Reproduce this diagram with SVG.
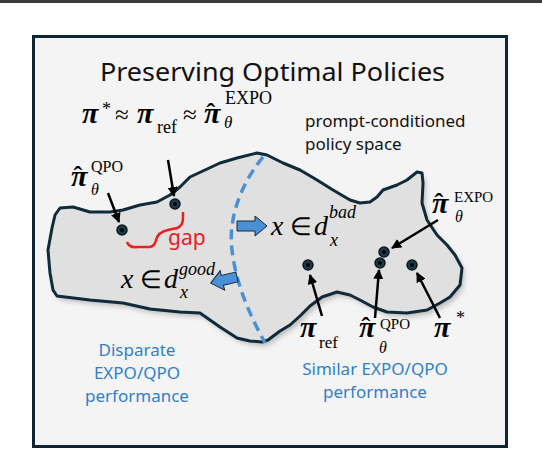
<svg xmlns="http://www.w3.org/2000/svg" width="542" height="450" viewBox="0 0 542 450">
<defs>
<style>
.sans{font-family:"Noto Sans","Open Sans","Liberation Sans",sans-serif;}
.pi{font-family:"Liberation Serif","Times New Roman",serif;font-style:italic;font-weight:bold;font-size:30px;fill:#000;}
.hat{font-style:normal;font-size:26px;}
.rm{font-family:"Liberation Serif","Times New Roman",serif;fill:#000;}
.it{font-family:"Liberation Serif","Times New Roman",serif;font-style:italic;fill:#000;}
.blue{fill:#2f80c9;font-size:17px;text-anchor:middle;}
.arr{stroke:#000;stroke-width:2.5;fill:none;marker-end:url(#ah);}
.dot{fill:#1d3a48;stroke:#0a1a22;stroke-width:1.5;}
.blk{fill:#4a90d6;stroke:#14283a;stroke-width:1;}
</style>
<marker id="ah" viewBox="0 0 10 10" refX="9" refY="5" markerWidth="4" markerHeight="4" markerUnits="strokeWidth" orient="auto">
<path d="M0,0 L10,5 L0,10 z" fill="#000"/>
</marker>
<filter id="sh" x="-10%" y="-10%" width="120%" height="130%">
<feGaussianBlur stdDeviation="2.5"/>
</filter>
</defs>
<rect x="0" y="0" width="542" height="3" fill="#3a3a3a"/>
<rect id="frame" x="33.5" y="36.5" width="473" height="410" fill="#f4f4f4" stroke="#0e2633" stroke-width="3"/>
<text class="sans" x="100" y="81" font-size="25" textLength="345" lengthAdjust="spacingAndGlyphs" fill="#111">Preserving Optimal Policies</text>

<g id="policy-space">
<path id="blob-shadow" d="M60,208 L73,207 L90,212 L110,212 L123,210 L140,205 L157,202 L170,195 L180,187 L190,177 L205,170 L220,163 L237,158 L257,153 L267,155 L283,163 L300,170 L317,180 L333,190 L350,200 L360,203 L370,202 L377,197 L383,190 L397,185 L407,180 L417,172 L422,173 L423,183 L422,203 L427,220 L437,235 L447,245 L455,255 L462,268 L460,285 L450,297 L440,303 L427,310 L407,313 L387,312 L373,307 L360,300 L350,295 L337,292 L322,297 L310,306 L300,316 L290,325 L280,331 L268,340 L262,342 L250,341 L237,338 L220,327 L200,313 L180,312 L160,310 L150,309 L123,303 L90,300 L57,296 L53,290 L50,273 L48,250 L52,228 L55,215 Z" fill="#9a9a9a" opacity="0.6" transform="translate(3,4)" filter="url(#sh)"/>
<path id="blob" d="M60,208 L73,207 L90,212 L110,212 L123,210 L140,205 L157,202 L170,195 L180,187 L190,177 L205,170 L220,163 L237,158 L257,153 L267,155 L283,163 L300,170 L317,180 L333,190 L350,200 L360,203 L370,202 L377,197 L383,190 L397,185 L407,180 L417,172 L422,173 L423,183 L422,203 L427,220 L437,235 L447,245 L455,255 L462,268 L460,285 L450,297 L440,303 L427,310 L407,313 L387,312 L373,307 L360,300 L350,295 L337,292 L322,297 L310,306 L300,316 L290,325 L280,331 L268,340 L262,342 L250,341 L237,338 L220,327 L200,313 L180,312 L160,310 L150,309 L123,303 L90,300 L57,296 L53,290 L50,273 L48,250 L52,228 L55,215 Z" fill="#e0e0e0" stroke="#0f2a38" stroke-width="3" stroke-linejoin="round"/>
<path id="divider" d="M263,157 C240,185 228,220 232,250 C236,285 250,315 265,343" fill="none" stroke="#4a90d6" stroke-width="3.5" stroke-dasharray="10,6"/>
</g>

<g id="connectors">
<path class="arr" d="M108,193 L119,222"/>
<path class="arr" d="M168,160 L174,196"/>
<path class="arr" d="M438,220 L392,248"/>
<path class="arr" d="M375,318 L379,270"/>
<path class="arr" d="M440,318 L417,273"/>
<path class="arr" d="M322,316 L310,275"/>
<polygon class="blk" points="237,221 255,221 255,216 267,226 255,236 255,231 237,231"/>
<polygon class="blk" transform="translate(237,277) rotate(167)" points="0,-5 15,-5 15,-10 27,0 15,10 15,5 0,5"/>
<path id="gap-brace" d="M127,242 Q129,248 138,247 L150,247 Q155,246 156,240 Q158,232 168,230 L177,228 Q183,226 183,218 L183,212" fill="none" stroke="#e8201f" stroke-width="2.5"/>
</g>

<g id="dot-qpo-left"><circle class="dot" cx="122" cy="230" r="5"/><circle cx="122" cy="230" r="2" fill="#000"/></g>
<g id="dot-ref-left"><circle class="dot" cx="175" cy="204" r="5"/><circle cx="175" cy="204" r="2" fill="#000"/></g>
<g id="dot-ref-right"><circle class="dot" cx="308" cy="265" r="5"/><circle cx="308" cy="265" r="2" fill="#000"/></g>
<g id="dot-expo-right"><circle class="dot" cx="384" cy="252" r="5"/><circle cx="384" cy="252" r="2" fill="#000"/></g>
<g id="dot-qpo-right"><circle class="dot" cx="380" cy="263" r="5"/><circle cx="380" cy="263" r="2" fill="#000"/></g>
<g id="dot-star-right"><circle class="dot" cx="412" cy="265" r="5"/><circle cx="412" cy="265" r="2" fill="#000"/></g>

<g id="formula-top">
<text class="pi" x="82" y="123">π</text>
<text class="rm" x="102" y="115" font-size="18">*</text>
<text class="rm" x="115" y="123" font-size="25">≈</text>
<text class="pi" x="137" y="123">π</text>
<text class="rm" x="157" y="133" font-size="18">ref</text>
<text class="rm" x="183" y="123" font-size="25">≈</text>
<text class="pi" x="204" y="123">π<tspan class="hat" dx="-14" dy="-2">ˆ</tspan></text>
<text class="it" x="224" y="128" font-size="17">θ</text>
<text class="rm" x="225" y="104" font-size="18">EXPO</text>
</g>
<g id="label-policy-space">
<text class="sans" x="305" y="127" font-size="17" fill="#111">prompt-conditioned</text>
<text class="sans" x="305" y="150" font-size="17" fill="#111">policy space</text>
</g>
<g id="label-qpo-left">
<text class="pi" x="71" y="186">π<tspan class="hat" dx="-14" dy="-2">ˆ</tspan></text>
<text class="rm" x="91" y="172" font-size="16">QPO</text>
<text class="it" x="91" y="195" font-size="16">θ</text>
</g>
<g id="label-expo-right">
<text class="pi" x="432" y="213">π<tspan class="hat" dx="-14" dy="-2">ˆ</tspan></text>
<text class="rm" x="454" y="202" font-size="15">EXPO</text>
<text class="it" x="455" y="222" font-size="16">θ</text>
</g>
<g id="label-ref-right">
<text class="pi" x="300" y="337">π</text>
<text class="rm" x="319" y="348" font-size="17">ref</text>
</g>
<g id="label-qpo-right">
<text class="pi" x="359" y="337">π<tspan class="hat" dx="-14" dy="-2">ˆ</tspan></text>
<text class="rm" x="380" y="329" font-size="15">QPO</text>
<text class="it" x="379" y="353" font-size="16">θ</text>
</g>
<g id="label-star-right">
<text class="pi" x="434" y="337">π</text>
<text class="rm" x="456" y="324" font-size="18">*</text>
</g>
<g id="label-bad">
<text class="it" x="271" y="235" font-size="28">x</text>
<text class="rm" x="290" y="235" font-size="25">∈</text>
<text class="it" x="314" y="235" font-size="28">d</text>
<text class="it" x="329" y="218" font-size="18">bad</text>
<text class="it" x="330" y="246" font-size="18">x</text>
</g>
<g id="label-good">
<text class="it" x="121" y="288" font-size="28">x</text>
<text class="rm" x="140" y="288" font-size="25">∈</text>
<text class="it" x="164" y="288" font-size="28">d</text>
<text class="it" x="179" y="275" font-size="18">good</text>
<text class="it" x="180" y="298" font-size="18">x</text>
</g>
<text class="sans" x="168" y="245" font-size="21" fill="#e8201f">gap</text>
<g id="label-disparate">
<text class="sans blue" x="137" y="356">Disparate</text>
<text class="sans blue" x="137" y="379">EXPO/QPO</text>
<text class="sans blue" x="137" y="402">performance</text>
</g>
<g id="label-similar">
<text class="sans blue" x="375" y="375">Similar EXPO/QPO</text>
<text class="sans blue" x="375" y="398">performance</text>
</g>
</svg>
